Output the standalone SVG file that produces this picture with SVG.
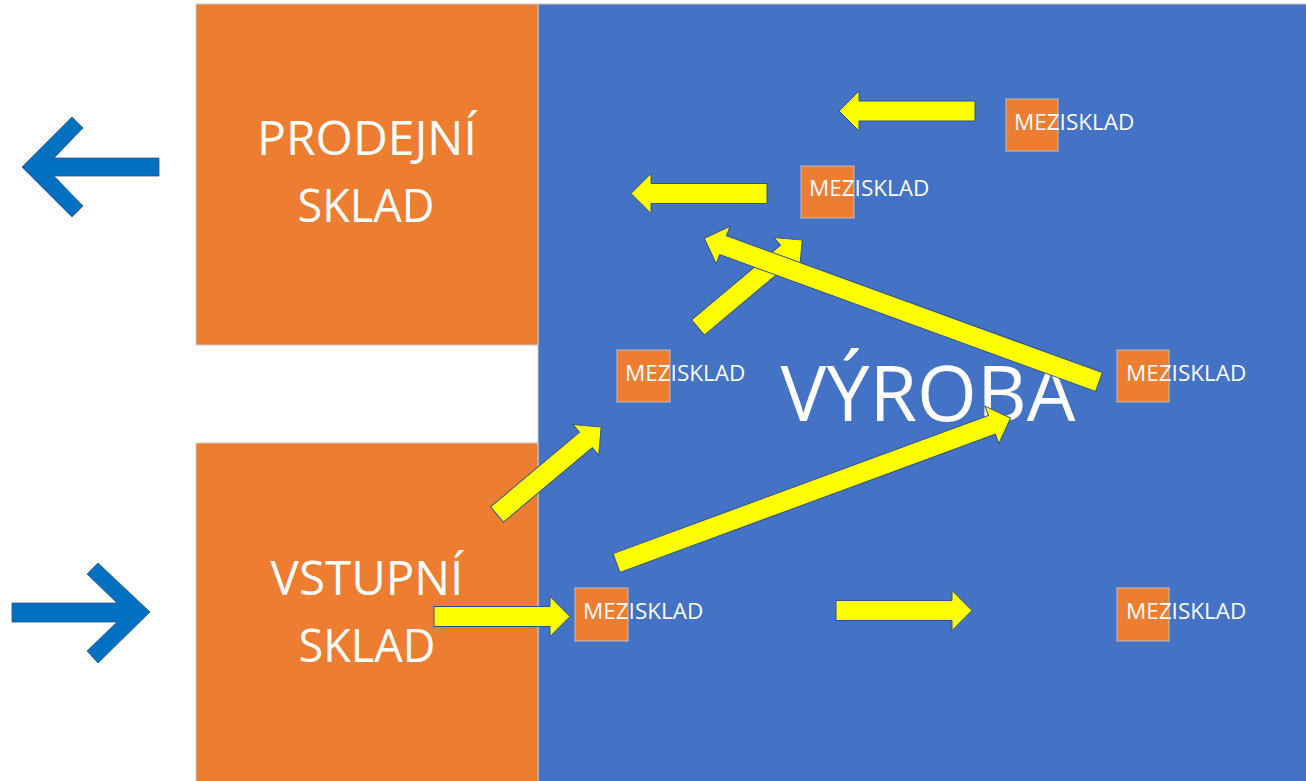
<svg xmlns="http://www.w3.org/2000/svg" xmlns:xlink="http://www.w3.org/1999/xlink" width="1306" height="781" viewBox="0 0 1306 781">
  <style>
    .area { stroke: #C9C9C9; stroke-width: 1; }
    .orange { fill: #ED7D31; }
    .blue { fill: #4472C4; }
    .big { font-family: "Open Sans", "Liberation Sans", sans-serif; fill: #FFFFFF; text-anchor: middle; }
    .box { fill: #ED7D31; stroke: #BFBFBF; stroke-width: 1; }
    .lbl { font-family: "Open Sans", "Liberation Sans", sans-serif; font-size: 22.5px; fill: #FFFFFF; }
    .ya { fill: #FFFF00; stroke: #2F528F; stroke-width: 1; }
    .ba { fill: #0070C0; stroke: #2F528F; stroke-width: 0.8; }
  </style>
  <defs>
    <path id="a136" d="M0,-10 H116 V-20 L136,0 L116,20 V10 H0 Z"/>
    <path id="a420" d="M0,-10 H400 V-20 L420,0 L400,20 V10 H0 Z"/>
  </defs>
  <rect width="1306" height="781" fill="#FFFFFF"/>

  <g id="vyroba">
    <rect class="area blue" x="538" y="4" width="780" height="790"/>
    <text class="big" x="928" y="421" font-size="77">VÝROBA</text>
  </g>
  <g id="prodejni-sklad">
    <rect class="area orange" x="196" y="4" width="342" height="341"/>
    <text class="big" x="367" y="155" font-size="48">PRODEJNÍ</text>
    <text class="big" x="366" y="222" font-size="45">SKLAD</text>
  </g>
  <g id="vstupni-sklad">
    <rect class="area orange" x="196" y="443" width="342" height="350"/>
    <text class="big" x="367" y="595" font-size="47.5">VSTUPNÍ</text>
    <text class="big" x="367" y="662" font-size="45">SKLAD</text>
  </g>

  <g id="mezisklad-1">
    <rect class="box" x="1006" y="99" width="52" height="52"/>
    <text class="lbl" x="1014" y="130">MEZISKLAD</text>
  </g>
  <g id="mezisklad-2">
    <rect class="box" x="801" y="166" width="53" height="52"/>
    <text class="lbl" x="809" y="196">MEZISKLAD</text>
  </g>
  <g id="mezisklad-3">
    <rect class="box" x="617" y="350" width="53" height="52"/>
    <text class="lbl" x="625" y="381">MEZISKLAD</text>
  </g>
  <g id="mezisklad-4">
    <rect class="box" x="1117" y="350" width="52" height="52"/>
    <text class="lbl" x="1126" y="381">MEZISKLAD</text>
  </g>
  <g id="mezisklad-5">
    <rect class="box" x="575" y="588" width="53" height="53"/>
    <text class="lbl" x="583" y="619">MEZISKLAD</text>
  </g>
  <g id="mezisklad-6">
    <rect class="box" x="1117" y="588" width="52" height="53"/>
    <text class="lbl" x="1126" y="619">MEZISKLAD</text>
  </g>

  <g id="connectors">
    <polygon class="ba" points="22,167 72,117 83,128 54,158 159,158 159,176 54,176 83,206 72,217"/>
    <polygon class="ba" points="12,603 117,603 87,574 98,563 150,612 98,663 87,651 117,622 12,622"/>
    <use xlink:href="#a136" class="ya" transform="translate(975,111) rotate(180)"/>
    <use xlink:href="#a136" class="ya" transform="translate(767,193.5) rotate(180)"/>
    <use xlink:href="#a136" class="ya" transform="translate(434,616.5)"/>
    <use xlink:href="#a136" class="ya" transform="translate(836,610.5)"/>
    <use xlink:href="#a136" class="ya" transform="translate(497,514.5) rotate(-40)"/>
    <use xlink:href="#a136" class="ya" transform="translate(698,327.5) rotate(-40)"/>
    <use xlink:href="#a420" class="ya" transform="translate(1099,382) rotate(200)"/>
    <use xlink:href="#a420" class="ya" transform="translate(616.5,563) rotate(-20.2)"/>
  </g>
</svg>
